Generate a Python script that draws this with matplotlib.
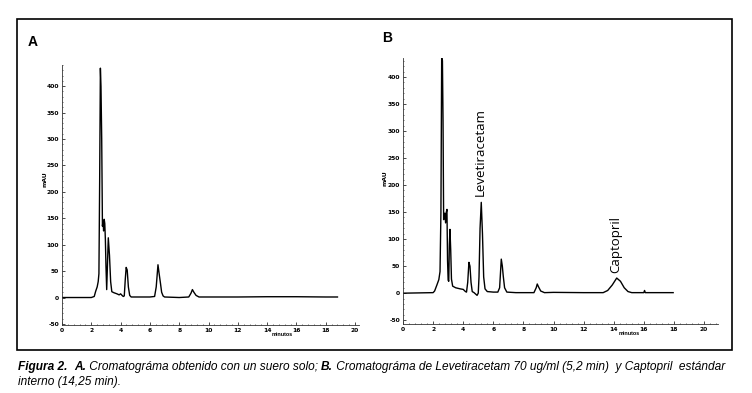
import matplotlib.pyplot as plt
from matplotlib.patches import Rectangle
from matplotlib.ticker import MultipleLocator

plt.rcParams['axes.unicode_minus'] = False

# ---- datos ----
# Panel A: suero solo
tiempo_a = [0, 2.0, 2.2, 2.3, 2.4, 2.47, 2.52, 2.57, 2.62, 2.66,
            2.71, 2.76, 2.8, 2.84, 2.88, 2.92, 2.96, 3.0, 3.05, 3.1,
            3.16, 3.24, 3.32, 3.4, 3.55, 3.75, 3.9, 4.0, 4.1, 4.18,
            4.25, 4.32, 4.38, 4.45, 4.53, 4.62, 4.72, 5.0, 6.0, 6.32,
            6.43, 6.55, 6.63, 6.72, 6.8, 6.9, 7.0, 8.0, 8.65, 8.8,
            8.9, 9.0, 9.15, 9.35, 10.0, 12.0, 14.0, 16.0, 18.0, 18.8]
senal_a = [0, 0, 2, 12, 20, 30, 45, 220, 434, 400,
           300, 135, 145, 126, 148, 140, 110, 60, 15, 60,
           113, 80, 30, 11, 9, 7, 5, 7, 4, 2,
           3, 35, 57, 52, 20, 4, 1, 1, 1, 2,
           20, 62, 45, 27, 10, 3, 1, 0, 1, 8,
           15, 10, 4, 1, 1, 1, 1.5, 1.5, 1, 1]

# Panel B: Levetiracetam + Captopril
tiempo_b = [0, 2.0, 2.1, 2.25, 2.38, 2.46, 2.52, 2.57, 2.62, 2.66,
            2.7, 2.74, 2.78, 2.83, 2.88, 2.92, 2.96, 3.0, 3.04, 3.08,
            3.12, 3.17, 3.22, 3.3, 3.5, 3.8, 4.0, 4.15, 4.22, 4.3,
            4.38, 4.45, 4.52, 4.6, 4.72, 4.92, 5.0, 5.05, 5.12, 5.2,
            5.28, 5.36, 5.45, 5.6, 6.0, 6.3, 6.42, 6.53, 6.6, 6.66,
            6.75, 6.9, 7.5, 8.7, 8.85, 8.92, 9.0, 9.15, 9.4, 10.0,
            12.0, 13.3, 13.6, 13.9, 14.2, 14.45, 14.7, 14.95, 15.2, 16.0,
            16.05, 16.1, 17.95]
senal_b = [0, 1, 4, 15, 25, 40, 150, 435, 430, 320,
           136, 145, 148, 130, 150, 155, 60, 24, 22, 90,
           118, 80, 26, 13, 10, 8, 7, 3, 2, 20,
           57, 50, 20, 3, 1, -4, 0, 30, 120, 168,
           110, 30, 8, 3, 2, 2, 10, 63, 50, 32,
           10, 2, 1, 1, 10, 17, 12, 4, 1, 1.5,
           1, 1, 5, 15, 28, 22, 10, 3, 1, 1,
           5, 1, 1]

etiquetas_b = ['Levetiracetam', 'Captopril']
pos_etiquetas_b = [(5.16, 180), (14.13, 38)]

W, H = 752, 393
fig = plt.figure(figsize=(W / 100, H / 100), dpi=100)

def px_axes(left, top, right, bottom):
    return [left / W, 1 - bottom / H, (right - left) / W, (bottom - top) / H]

tick_font = {'family': 'DejaVu Sans', 'weight': 'bold', 'size': 4.3}

def estilo_eje(ax, xmax, ymin, ymax):
    ax.set_xlim(0, xmax)
    ax.set_ylim(ymin, ymax)
    ax.set_xticks(range(0, 21, 2))
    ax.set_yticks(range(-50, 401, 50))
    ax.xaxis.set_minor_locator(MultipleLocator(0.4))
    ax.yaxis.set_minor_locator(MultipleLocator(10))
    for s in ['top', 'right']:
        ax.spines[s].set_visible(False)
    for s in ['left', 'bottom']:
        ax.spines[s].set_linewidth(0.6)
        ax.spines[s].set_color('#333333')
    ax.tick_params(which='major', direction='in', length=2, width=0.5, pad=2)
    ax.tick_params(which='minor', direction='in', length=1, width=0.4)
    for lab in ax.get_xticklabels() + ax.get_yticklabels():
        lab.set_fontproperties(tick_font)
        lab.set_fontsize(4.3)
    ax.set_ylabel('mAU', fontsize=4.3, fontweight='bold')
    # "minutos" va entre las etiquetas 14 y 16, un poco mas abajo
    ax.set_xlabel('minutos', fontsize=3.9, fontweight='bold',
                  family='Liberation Sans')
    ax.xaxis.set_label_coords(15 / xmax, -0.028)

# ---- panel A ----
ax_a = fig.add_axes(px_axes(62, 65, 359, 325))
ax_a.plot(tiempo_a, senal_a, color='black', lw=1.0)
estilo_eje(ax_a, 20.27, -52, 440)
ax_a.yaxis.set_label_coords(-0.05, 0.56)

# ---- panel B ----
ax_b = fig.add_axes(px_axes(403, 58, 718, 324))
ax_b.plot(tiempo_b, senal_b, color='black', lw=1.0)
estilo_eje(ax_b, 20.93, -57, 435)
ax_b.yaxis.set_label_coords(-0.05, 0.55)
for txt, (x, y) in zip(etiquetas_b, pos_etiquetas_b):
    ax_b.text(x, y, txt, rotation=90, ha='center', va='bottom',
              fontsize=9.5, family='Open Sans')

fig.text(33 / W, 1 - 42 / H, 'A', ha='center', va='center', fontsize=10,
         family='Liberation Sans', weight='bold')
fig.text(387 / W, 1 - 38 / H, 'B', ha='center', va='center', fontsize=10,
         family='Liberation Sans', weight='bold')

# marco
fig.patches.append(Rectangle((17 / W, 1 - 350 / H), (732 - 17) / W, (350 - 19) / H,
                             transform=fig.transFigure, fill=False,
                             edgecolor='black', lw=1.2))

# ---- pie de figura ----
renderer = fig.canvas.get_renderer()

def linea(segmentos, x0, y, size=8.55):
    x = x0
    for texto, peso in segmentos:
        t = fig.text(x / W, 1 - y / H, texto, ha='left', va='center',
                     fontsize=size, style='italic', weight=peso,
                     family='Liberation Sans')
        x += t.get_window_extent(renderer).width

linea([('Figura 2.', 'bold'), ('  ', 'normal'), ('A.', 'bold'),
       (' Cromatográma obtenido con un suero solo; ', 'normal'), ('B.', 'bold'),
       (' Cromatográma de Levetiracetam 70 ug/ml (5,2 min)  y Captopril  estándar', 'normal')],
      18, 367)
linea([('interno (14,25 min).', 'normal')], 18, 382)

fig.savefig('out.png', dpi=100)
